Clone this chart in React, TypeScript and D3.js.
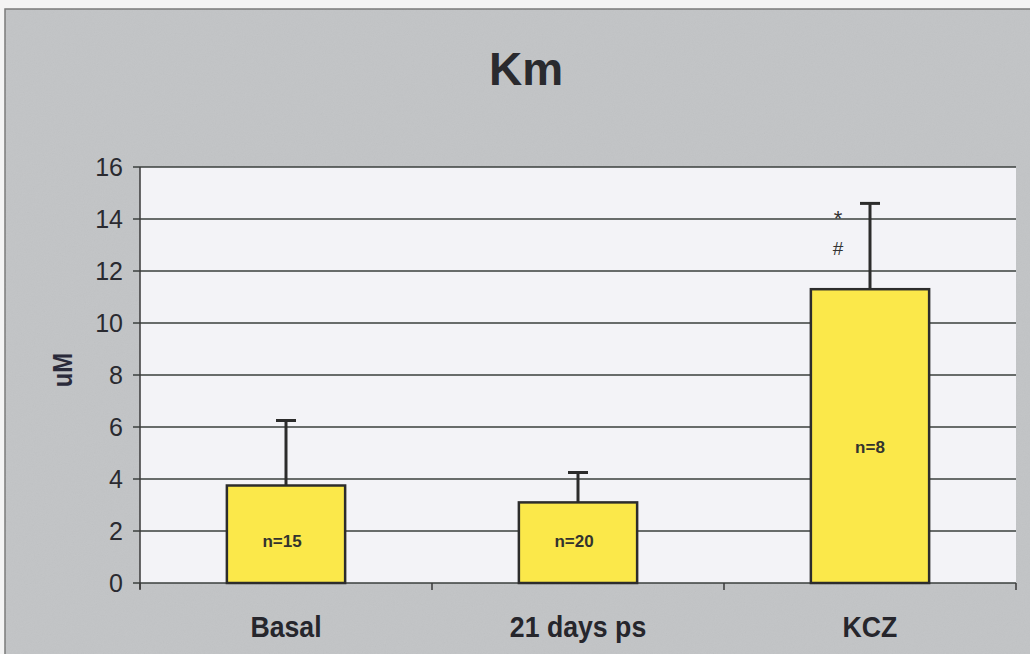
import React from "react";
import * as d3 from "d3";

const categories = ["Basal", "21 days ps", "KCZ"];
const means = [3.75, 3.1, 11.3];
const errors = [2.5, 1.15, 3.3];
const nLabels = ["n=15", "n=20", "n=8"];
const yTicks = [0, 2, 4, 6, 8, 10, 12, 14, 16];
const sigMarks = ["*", "#"];

export default function App() {
  const W = 1030, H = 654;
  const left = 140, right = 1016, top = 167, bottom = 583;
  const x = d3.scaleBand<string>().domain(categories).range([left, right]).paddingInner(0).paddingOuter(0);
  const y = d3.scaleLinear().domain([0, 16]).range([bottom, top]);
  const bw = x.bandwidth() * 0.405;
  const font = "Liberation Sans, Arial, sans-serif";
  return (
    <svg width={W} height={H} style={{ position: "absolute", left: 0, top: 0 }}>
      <defs>
        <filter id="noise" x="0" y="0" width="100%" height="100%">
          <feTurbulence type="fractalNoise" baseFrequency="0.9" numOctaves="2" result="t" />
          <feColorMatrix type="saturate" values="0" />
          <feComponentTransfer>
            <feFuncA type="linear" slope="0.12" />
          </feComponentTransfer>
        </filter>
      </defs>
      <rect x={0} y={0} width={W} height={H} fill="#f4f4f4" />
      <rect x={5} y={9} width={W} height={H} fill="#c2c4c6" stroke="#7a7a7a" strokeWidth={1.5} />
      <rect x={5} y={9} width={W} height={H} filter="url(#noise)" opacity={0.6} />
      <text x={526} y={85} textAnchor="middle" fontFamily={font} fontWeight="bold" fontSize={46} fill="#2a2a2e">Km</text>
      <rect x={left} y={top} width={right - left} height={bottom - top} fill="#f3f3f7" />
      {yTicks.map((t) => (
        <g key={t}>
          <line x1={left - 7} x2={right} y1={y(t)} y2={y(t)} stroke="#3a3f3c" strokeWidth={1.5} />
          <text x={left - 17} y={y(t) + 9} textAnchor="end" fontFamily={font} fontSize={25} fill="#2a2a30">{t}</text>
        </g>
      ))}
      <line x1={left} x2={left} y1={top} y2={bottom + 6} stroke="#3a3a3a" strokeWidth={1.5} />
      {[...categories.map((c) => x(c)!), right].map((px, i) => (
        <line key={i} x1={px} x2={px} y1={bottom} y2={bottom + 7} stroke="#3a3a3a" strokeWidth={1.5} />
      ))}
      <text transform={`translate(72,370) rotate(-90) scale(0.85,1)`} textAnchor="middle" fontFamily={font} fontWeight="bold" fontSize={28} fill="#2a2a3a">uM</text>
      {categories.map((c, i) => {
        const cx = x(c)! + x.bandwidth() / 2;
        return (
          <g key={c}>
            <line x1={cx} x2={cx} y1={y(means[i])} y2={y(means[i] + errors[i])} stroke="#2c2c2c" strokeWidth={3} />
            <line x1={cx - 10} x2={cx + 10} y1={y(means[i] + errors[i])} y2={y(means[i] + errors[i])} stroke="#2c2c2c" strokeWidth={3} />
            <rect x={cx - bw / 2} y={y(means[i])} width={bw} height={y(0) - y(means[i])} fill="#fbe84a" stroke="#2c2c2c" strokeWidth={2.5} />
            <text x={cx - (i === 2 ? 0 : 4)} y={i === 2 ? 453 : 547} textAnchor="middle" fontFamily={font} fontWeight="bold" fontSize={17} fill="#33332e">{nLabels[i]}</text>
            <text transform={`translate(${cx},637) scale(0.92,1)`} textAnchor="middle" fontFamily={font} fontWeight="bold" fontSize={29} fill="#26262c">{c}</text>
          </g>
        );
      })}
      <text x={838} y={226} textAnchor="middle" fontFamily={font} fontSize={22} fill="#333">{sigMarks[0]}</text>
      <text x={838} y={255} textAnchor="middle" fontFamily={font} fontSize={19} fill="#333">{sigMarks[1]}</text>
    </svg>
  );
}
